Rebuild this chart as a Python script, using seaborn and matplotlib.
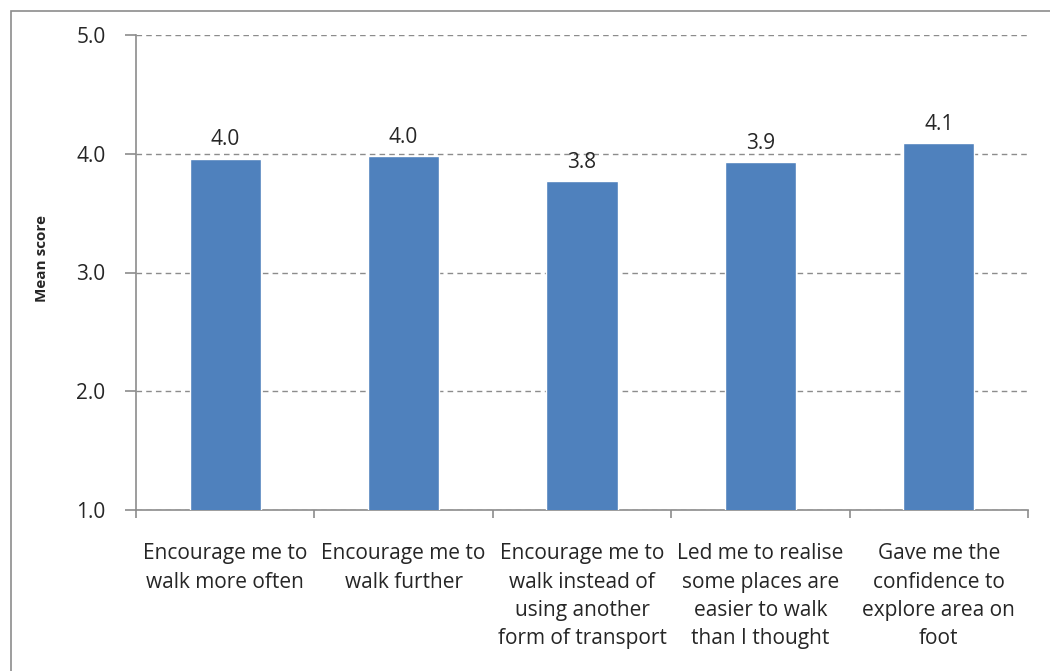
import matplotlib
matplotlib.use("Agg")
import matplotlib.pyplot as plt
from matplotlib.patches import Rectangle
import seaborn as sns
import pandas as pd

# Data
categories = [
    "Encourage me to\nwalk more often",
    "Encourage me to\nwalk further",
    "Encourage me to\nwalk instead of\nusing another\nform of transport",
    "Led me to realise\nsome places are\neasier to walk\nthan I thought",
    "Gave me the\nconfidence to\nexplore area on\nfoot",
]
mean_scores = [3.96, 3.98, 3.77, 3.93, 4.09]
y_ticks = [1.0, 2.0, 3.0, 4.0, 5.0]

df = pd.DataFrame({"category": categories, "score": mean_scores})

sns.set_theme(style="white")
plt.rcParams["font.family"] = ["Open Sans", "DejaVu Sans"]

fig = plt.figure(figsize=(10.5, 6.71), dpi=100)
ax = fig.add_axes([136 / 1050, 1 - 510 / 671, (1028 - 136) / 1050, (510 - 35) / 671])

# Outer chart-area border
fig.patches.append(Rectangle((11 / 1050, -0.05), 1.1, 1 - 11 / 671 + 0.05,
                             transform=fig.transFigure, fill=False,
                             edgecolor="#8c8c8c", linewidth=1.2, zorder=0))

sns.barplot(data=df, x="category", y="score", color="#4F81BD", saturation=1,
            width=0.4, ax=ax, zorder=3)

ax.set_ylim(1.0, 5.0)
ax.set_xlim(-0.5, len(categories) - 0.5)
ax.set_yticks(y_ticks)
ax.set_yticklabels([f"{t:.1f}" for t in y_ticks], fontsize=15)
ax.yaxis.grid(True, linestyle=(0, (4, 3)), color="#8c8c8c", linewidth=1, zorder=0)
ax.set_axisbelow(True)

# Value labels
for patch, val in zip(ax.patches, mean_scores):
    ax.text(patch.get_x() + patch.get_width() / 2, val + 0.07, f"{val:.1f}",
            ha="center", va="bottom", fontsize=15)

# Category labels, with boundary tick marks on the x axis
ax.set_xticks(range(len(categories)))
ax.set_xticklabels(categories, fontsize=15, linespacing=1.45)
ax.tick_params(axis="x", length=0, pad=24)
ax.set_xticks([i - 0.5 for i in range(len(categories) + 1)], minor=True)
ax.tick_params(axis="x", which="minor", length=6, color="#8c8c8c", width=1.2,
               direction="out", bottom=True)
ax.tick_params(axis="y", length=8, color="#8c8c8c", width=1.2, left=True,
               direction="out", pad=14)

for side in ["top", "right"]:
    ax.spines[side].set_visible(False)
for side in ["left", "bottom"]:
    ax.spines[side].set_color("#8c8c8c")
    ax.spines[side].set_linewidth(1.2)

ax.set_xlabel("")
ax.set_ylabel("Mean score", fontsize=11, fontweight="bold")
ax.yaxis.set_label_coords(-0.098, 0.53)

fig.savefig("out.png", dpi=100)
